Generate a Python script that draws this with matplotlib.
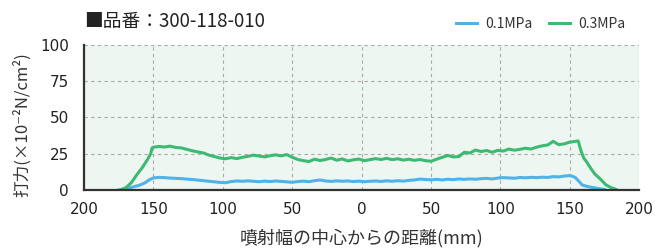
import numpy as np
import matplotlib.pyplot as plt

plt.rcParams['font.family'] = ['Noto Sans CJK JP', 'DejaVu Sans']

# ---- data ----
# 0.3MPa
x_green = [-174, -170, -166, -162, -158, -154, -152, -151] + list(range(-150, 155, 4)) + \
          [156, 158, 160, 162, 165, 168, 172, 176, 180, 183]
y_green = [0.0, 1.5, 5.0, 10.5, 15.5, 21.5, 25.0, 29.0,
           29.5, 30.0, 29.6, 30.2, 29.3, 29.0, 28.0, 27.0, 26.2, 25.5,
           24.0, 23.0, 22.0, 21.5, 22.3, 21.6, 22.5, 23.2, 24.0, 23.4,
           22.8, 23.6, 24.2, 23.5, 24.4, 22.5, 21.0, 20.2, 19.6, 21.2,
           20.3, 21.0, 22.0, 20.5, 21.4, 20.0, 20.8, 21.3, 20.2, 20.9,
           21.6, 21.0, 21.8, 20.9, 21.5, 20.6, 21.2, 20.4, 21.0, 20.2,
           19.8, 21.2, 22.5, 23.8, 22.8, 23.0, 26.0, 25.5, 27.5, 26.5,
           27.2, 26.0, 27.3, 26.8, 28.2, 27.4, 28.0, 28.8, 28.2, 29.5,
           30.4, 31.0, 33.5, 31.2, 31.8, 33.0, 33.5,
           33.8, 27.0, 22.0, 19.5, 15.0, 11.0, 7.5, 3.5, 1.5, 0.5]

# 0.1MPa
x_blue = [-175, -170, -165, -160, -156, -153] + list(range(-150, 151, 4)) + \
         [152, 154, 156, 159, 163, 167, 171, 175]
y_blue = [0.0, 0.8, 2.0, 3.3, 5.0, 7.0,
          8.3, 8.7, 8.5, 8.2, 8.0, 7.8, 7.5, 7.2, 6.8, 6.4,
          6.0, 5.6, 5.2, 5.0, 5.8, 6.2, 6.0, 6.3, 6.0, 5.7,
          6.1, 5.8, 6.2, 5.9, 5.6, 5.3, 5.8, 6.1, 5.7, 6.4,
          6.9, 6.2, 5.9, 6.3, 6.0, 6.2, 5.8, 6.1, 5.7, 6.0,
          6.2, 5.9, 6.3, 6.0, 6.4, 6.1, 6.6, 6.9, 7.5, 7.2,
          7.0, 7.3, 6.9, 7.4, 7.1, 7.6, 7.3, 7.6, 7.4, 7.8,
          8.0, 7.6, 8.2, 8.5, 8.3, 8.1, 8.6, 8.4, 8.7, 8.5,
          8.8, 8.6, 9.2, 9.0, 9.6, 9.9,
          9.4, 8.5, 6.5, 3.4, 2.3, 1.6, 0.9, 0.3]

x_ticks = [-200, -150, -100, -50, 0, 50, 100, 150, 200]
x_tick_labels = ['200', '150', '100', '50', '0', '50', '100', '150', '200']
y_ticks = [0, 25, 50, 75, 100]

fig = plt.figure(figsize=(6.57, 2.48), dpi=100)
ax = fig.add_axes([0.128, 0.234, 0.845, 0.585])
ax.set_facecolor('#eef6f1')

ax.plot(x_blue, y_blue, color='#4fb3e8', linewidth=2.2, label='0.1MPa')
ax.plot(x_green, y_green, color='#3dba72', linewidth=2.2, label='0.3MPa')

ax.set_xlim(-200, 200)
ax.set_ylim(0, 100)
ax.set_xticks(x_ticks)
ax.set_xticklabels(x_tick_labels)
ax.set_yticks(y_ticks)
ax.tick_params(length=0, labelsize=11, colors='#222222', labelfontfamily='DejaVu Sans')
ax.tick_params(axis='x', pad=9)
ax.tick_params(axis='y', pad=11)
ax.grid(True, linestyle=(0, (3, 3)), color='#aaaaaa', linewidth=0.8)
ax.set_axisbelow(True)

for s in ['top', 'right']:
    ax.spines[s].set_visible(False)
for s in ['left', 'bottom']:
    ax.spines[s].set_color('#333333')
    ax.spines[s].set_linewidth(1.6)

ax.set_xlabel('噴射幅の中心からの距離(mm)', fontsize=13, color='#333333', labelpad=8)
ax.set_ylabel('打力(×10⁻²N/cm²)', fontsize=12, color='#333333')
ax.yaxis.set_label_coords(-0.095, 0.45)

fig.text(0.128, 0.915, '■品番：300-118-010', fontsize=13.5, color='#222222', va='center')
ax.legend(loc='lower right', bbox_to_anchor=(1.0, 1.0), ncol=2, frameon=False,
          fontsize=10, handlelength=1.5, columnspacing=1.2, handletextpad=0.6,
          borderaxespad=0.6, labelcolor='#333333')

fig.savefig('out.png', dpi=100)
